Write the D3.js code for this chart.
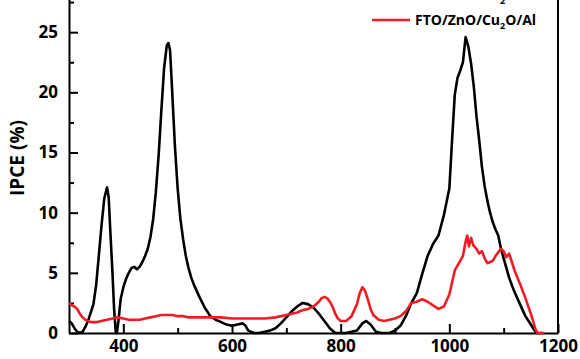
<!DOCTYPE html>
<html>
<head>
<meta charset="utf-8">
<style>
  body { margin: 0; background: #fff; }
  svg { display: block; font-family: "Open Sans", sans-serif; font-weight: bold; }
</style>
</head>
<body>
<svg width="580" height="359"></svg>
<script src="https://cdn.jsdelivr.net/npm/d3@7/dist/d3.min.js"></script>
<script>
// wavelength (nm) and IPCE (%)
var blackWl = [300,305,310,315,320,325,330,335,340,345,350,355,360,365,370,373,376,380,383,386,388,391,395,400,405,410,415,420,425,430,435,440,445,450,455,460,465,470,475,480,483,486,490,495,500,505,510,515,520,525,530,535,540,550,560,570,580,590,600,610,620,625,630,640,650,660,670,680,690,700,710,720,730,740,750,760,770,780,790,800,810,820,830,840,847,855,865,875,890,900,910,920,930,940,950,960,970,980,990,1000,1005,1010,1015,1020,1025,1030,1035,1040,1045,1050,1055,1060,1065,1070,1075,1080,1085,1090,1095,1100,1110,1120,1130,1140,1150,1160,1170];
var blackIpce = [1.0,0.8,0.4,0.1,0.0,0.1,0.5,1.0,1.7,2.4,4.0,6.5,9.0,11.2,12.1,11.3,8.5,5.0,2.0,0.1,0.0,1.0,2.8,3.8,4.5,5.0,5.4,5.5,5.3,5.5,5.9,6.4,7.0,8.0,9.5,11.8,14.8,18.5,22.0,23.9,24.1,23.5,20.0,15.5,12.0,9.5,7.8,6.4,5.4,4.6,4.0,3.5,3.0,2.1,1.4,1.1,0.9,0.7,0.6,0.7,0.8,0.6,0.2,0.0,0.0,0.1,0.2,0.4,0.8,1.3,1.8,2.2,2.5,2.4,2.1,1.6,1.0,0.4,0.0,0.0,0.0,0.1,0.2,0.8,1.0,0.7,0.1,0.0,0.0,0.2,0.6,1.4,2.5,3.3,4.9,6.4,7.4,8.1,9.8,12.0,16.0,19.8,21.2,21.8,22.5,24.6,23.8,22.4,20.5,18.0,16.0,13.8,12.2,11.0,10.0,9.2,8.6,8.1,7.0,6.2,4.6,3.4,2.4,1.4,0.7,0.0,0.0];

var redWl = [300,305,310,315,320,325,330,340,350,360,370,380,390,400,410,420,430,440,450,460,470,480,490,500,510,520,540,560,580,600,620,640,660,680,700,710,720,730,740,750,760,765,770,775,780,785,790,795,800,810,820,830,835,840,845,850,855,860,870,880,890,900,910,920,930,940,950,960,970,980,990,1000,1005,1010,1015,1020,1025,1030,1033,1036,1040,1044,1050,1055,1060,1065,1070,1075,1080,1085,1090,1095,1100,1105,1110,1115,1120,1130,1140,1150,1158,1162,1175];
var redIpce = [2.5,2.3,2.2,2.0,1.6,1.3,1.1,0.9,0.9,1.0,1.1,1.2,1.3,1.2,1.1,1.1,1.1,1.2,1.3,1.4,1.5,1.5,1.5,1.4,1.4,1.3,1.3,1.3,1.3,1.2,1.2,1.2,1.2,1.3,1.5,1.6,1.7,1.9,2.0,2.2,2.6,2.9,3.0,2.9,2.6,2.2,1.6,1.2,1.0,1.0,1.4,2.4,3.3,3.8,3.5,2.8,2.0,1.5,1.1,1.0,1.1,1.2,1.4,1.8,2.5,2.6,2.8,2.6,2.3,2.0,2.2,3.2,4.2,5.2,5.6,6.0,6.4,7.6,8.1,7.2,7.9,7.3,7.0,6.6,6.8,6.2,5.8,5.9,6.0,6.4,6.7,7.0,6.8,6.3,6.6,5.9,5.2,4.1,2.9,1.6,0.4,0.0,0.0];

var series = [
  {name: ["FTO/ZnO/Cu", "2", "O/Au"], color: "#000", wl: blackWl, ipce: blackIpce},
  {name: ["FTO/ZnO/Cu", "2", "O/Al"], color: "#ee1c25", wl: redWl, ipce: redIpce}
];

var xTicks = [400, 600, 800, 1000, 1200];
var yTicks = [0, 5, 10, 15, 20, 25];

var svg = d3.select("svg"),
    margin = {left: 69, right: 22, top: -28, bottom: 26},
    width = +svg.attr("width") - margin.left - margin.right,
    height = +svg.attr("height") - margin.top - margin.bottom,
    g = svg.append("g").attr("transform", "translate(" + margin.left + "," + margin.top + ")");

var x = d3.scaleLinear().domain([300, 1200]).range([0, width]);
var y = d3.scaleLinear().domain([0, 30]).range([height, 0]);

// minor ticks first, inward
g.append("g")
  .attr("transform", "translate(0," + height + ")")
  .call(d3.axisBottom(x).tickValues(d3.range(500, 1200, 200)).tickSizeInner(-5).tickSizeOuter(0).tickFormat(""))
  .call(function (a) { a.select(".domain").remove(); });
g.append("g")
  .call(d3.axisLeft(y).tickValues(d3.range(2.5, 30, 5)).tickSizeInner(-5).tickSizeOuter(0).tickFormat(""))
  .call(function (a) { a.select(".domain").remove(); });

// major ticks with labels
var xAxis = g.append("g")
  .attr("transform", "translate(0," + height + ")")
  .call(d3.axisBottom(x).tickValues(xTicks).tickSizeInner(-9).tickSizeOuter(0).tickPadding(7).tickFormat(d3.format("d")));
var yAxis = g.append("g")
  .call(d3.axisLeft(y).tickValues(yTicks).tickSizeInner(-9).tickSizeOuter(0).tickPadding(11));

g.selectAll(".tick line").attr("stroke", "#000").attr("stroke-width", 2);
g.selectAll(".domain").attr("stroke", "#000").attr("stroke-width", 2);
xAxis.selectAll("text").attr("font-size", 17).attr("font-weight", "bold").attr("fill", "#000").attr("font-family", "Open Sans");
yAxis.selectAll("text").attr("font-size", 17).attr("font-weight", "bold").attr("fill", "#000").attr("font-family", "Open Sans");

// right border
g.append("line")
  .attr("x1", width).attr("x2", width)
  .attr("y1", 0).attr("y2", height)
  .attr("stroke", "#000").attr("stroke-width", 2);

var line = d3.line()
  .x(function (d) { return x(d[0]); })
  .y(function (d) { return y(d[1]); });

series.forEach(function (s) {
  g.append("path")
    .datum(s.wl.map(function (w, i) { return [w, s.ipce[i]]; }))
    .attr("fill", "none")
    .attr("stroke", s.color)
    .attr("stroke-width", 2.6)
    .attr("stroke-linejoin", "round")
    .attr("d", line);
});

// legend
var legend = svg.append("g").attr("transform", "translate(372,-5)");
series.forEach(function (s, i) {
  var row = legend.append("g").attr("transform", "translate(0," + i * 25 + ")");
  row.append("line").attr("x1", 0).attr("x2", 38).attr("stroke", s.color).attr("stroke-width", 2.6);
  var t = row.append("text").attr("x", 43).attr("y", 5).attr("font-size", 14).attr("fill", "#000");
  t.append("tspan").text(s.name[0]);
  t.append("tspan").attr("dy", 4).attr("font-size", 9).text(s.name[1]);
  t.append("tspan").attr("dy", -4).text(s.name[2]);
});

// y label
svg.append("text")
  .attr("transform", "translate(24,158) rotate(-90)")
  .attr("text-anchor", "middle")
  .attr("font-size", 19)
  .attr("fill", "#000")
  .text("IPCE (%)");
</script>
</body>
</html>
